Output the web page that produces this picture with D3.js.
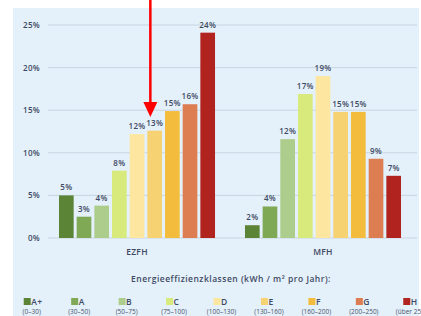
<!DOCTYPE html>
<html>
<head>
<meta charset="utf-8">
<script src="https://cdn.jsdelivr.net/npm/d3@7"></script>
<style>
  body { margin: 0; background: #fff; overflow: hidden; }
  svg { display: block; }
  .lbl { font-family: "Open Sans", Lato, sans-serif; font-weight: 600; fill: #3e4a63; letter-spacing: 0.3px; }
</style>
</head>
<body>
<div id="chart"></div>
<script>
// energy classes and their ranges
const classes = ["A+", "A", "B", "C", "D", "E", "F", "G", "H"];
const ranges = ["(0–30)", "(30–50)", "(50–75)", "(75–100)", "(100–130)", "(130–160)", "(160–200)", "(200–250)", "(über 250)"];
const colors = ["#5c8436", "#80a956", "#adcd8c", "#d8ea7c", "#fde6a0", "#f7d272", "#f4bc3d", "#dc7e52", "#b0231f"];

const groups = ["EZFH", "MFH"];
const ezfh = [5.0, 2.5, 3.8, 7.9, 12.2, 12.6, 14.9, 15.7, 24.1];
const mfh = [1.5, 3.7, 11.6, 16.9, 19.0, 14.8, 14.8, 9.3, 7.3];
const ezfhLabels = ["5%", "3%", "4%", "8%", "12%", "13%", "15%", "16%", "24%"];
const mfhLabels = ["2%", "4%", "12%", "17%", "19%", "15%", "15%", "9%", "7%"];
const yTicks = [0, 5, 10, 15, 20, 25];

let w = 421, h = 316;

let svg = d3.select("#chart")
    .append("svg")
    .attr("width", w)
    .attr("height", h);

// light blue panel
svg.append("rect")
    .attr("x", 13)
    .attr("y", 8)
    .attr("width", 406)
    .attr("height", h - 8)
    .attr("fill", "#e4f0fa");

let y = d3.scaleLinear().domain([0, 25]).range([238, 25]);

let x0 = d3.scaleBand()
    .domain(groups)
    .range([44, 416])
    .paddingInner(0.161)
    .paddingOuter(0.0806);

let x1 = d3.scaleBand()
    .domain(classes)
    .range([0, x0.bandwidth()])
    .paddingInner(0.17)
    .paddingOuter(0);

// grid lines
svg.selectAll("line.grid")
    .data(yTicks)
    .join("line")
    .attr("class", "grid")
    .attr("x1", 48)
    .attr("x2", 417)
    .attr("y1", d => y(d))
    .attr("y2", d => y(d))
    .attr("stroke", "#c8d5e1")
    .attr("stroke-width", 1);

svg.selectAll("text.ytick")
    .data(yTicks)
    .join("text")
    .attr("class", "lbl")
    .attr("x", 40)
    .attr("y", d => y(d) + 3)
    .attr("text-anchor", "end")
    .attr("font-size", 8)
    .text(d => d + "%");

let series = [
    {group: "EZFH", values: ezfh, labels: ezfhLabels},
    {group: "MFH", values: mfh, labels: mfhLabels}
];

series.forEach(s => {
    let g = svg.append("g")
        .attr("transform", "translate(" + x0(s.group) + ",0)");

    g.selectAll("rect")
        .data(s.values)
        .join("rect")
        .attr("x", (d, i) => x1(classes[i]))
        .attr("y", d => y(d))
        .attr("width", x1.bandwidth())
        .attr("height", d => y(0) - y(d))
        .attr("fill", (d, i) => colors[i]);

    g.selectAll("text")
        .data(s.values)
        .join("text")
        .attr("class", "lbl")
        .attr("x", (d, i) => x1(classes[i]) + x1.bandwidth() / 2)
        .attr("y", d => y(d) - 5)
        .attr("text-anchor", "middle")
        .attr("font-size", 8)
        .text((d, i) => s.labels[i]);

    svg.append("text")
        .attr("class", "lbl")
        .attr("x", x0(s.group) + x0.bandwidth() / 2)
        .attr("y", 255)
        .attr("text-anchor", "middle")
        .attr("font-size", 8.5)
        .text(s.group);
});

// axis title
svg.append("text")
    .attr("class", "lbl")
    .attr("x", 231)
    .attr("y", 282)
    .attr("text-anchor", "middle")
    .attr("font-size", 8.5)
    .style("letter-spacing", "0.5px")
    .text("Energieeffizienzklassen (kWh / m² pro Jahr):");

// legend
let lx = d3.scaleBand().domain(classes).range([8, 435]);

let leg = svg.selectAll("g.leg")
    .data(classes)
    .join("g")
    .attr("class", "leg")
    .attr("transform", d => "translate(" + (lx(d) + lx.bandwidth() / 2) + ",0)");

leg.append("rect")
    .attr("x", -8)
    .attr("y", 298)
    .attr("width", 7)
    .attr("height", 7)
    .attr("fill", (d, i) => colors[i]);

leg.append("text")
    .attr("class", "lbl")
    .attr("x", -0.5)
    .attr("y", 305)
    .attr("font-size", 8.5)
    .text(d => d);

leg.append("text")
    .attr("x", 0)
    .attr("y", 313.5)
    .attr("text-anchor", "middle")
    .attr("font-family", "'Open Sans', sans-serif")
    .attr("font-size", 6.5)
    .attr("fill", "#4a556c")
    .text((d, i) => ranges[i]);

// red arrow pointing at EZFH class E
let ax = x0("EZFH") + x1("E") + 3;
let tipY = y(14.2);
svg.append("line")
    .attr("x1", ax)
    .attr("x2", ax)
    .attr("y1", 0)
    .attr("y2", tipY - 12)
    .attr("stroke", "#ff0000")
    .attr("stroke-width", 2.5);

svg.append("path")
    .attr("d", d3.line()([[ax - 7, tipY - 15], [ax + 7, tipY - 15], [ax, tipY]]))
    .attr("fill", "#ff0000");
</script>
</body>
</html>
